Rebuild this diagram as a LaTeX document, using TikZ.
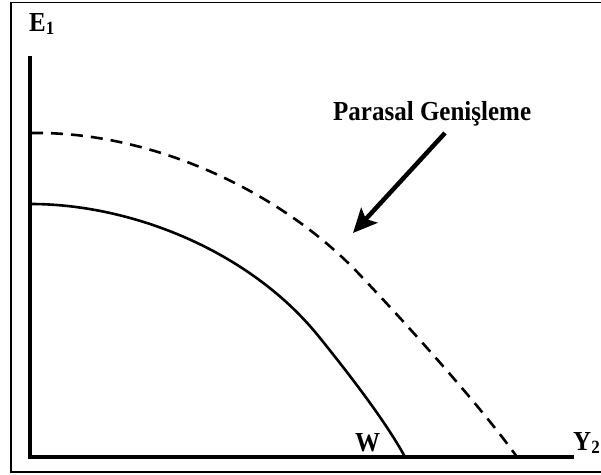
\documentclass[tikz,border=0pt]{standalone}
\usepackage{fontspec}
\setmainfont{Liberation Serif}
\usetikzlibrary{arrows.meta}
\tikzset{
  lbl/.style={font=\fontsize{25}{25}\selectfont\bfseries, inner sep=0pt, anchor=base west},
  axis/.style={line width=3.6pt, line cap=rect},
  curve/.style={line width=2.6pt},
  frame/.style={line width=1.4pt}
}
\begin{document}
\begin{tikzpicture}[x=1pt,y=-1pt]
\useasboundingbox (0,0) rectangle (601,474);
% frame (right side outside)
\draw[frame] (601,2.5) -- (11,2.5) -- (11,472) -- (601,472);
% axes
\coordinate (ytop) at (30,58);
\coordinate (xend) at (572,457);
\draw[axis] (ytop) |- (xend);
% labels
\node[lbl] (E1) at (29,31) {\scalebox{1}[1.1]{E\raisebox{-0.3ex}{\fontsize{17}{17}\selectfont 1}}};
\node[lbl] (Y2) at (573,450) {\scalebox{1}[1.1]{Y\raisebox{-0.3ex}{\fontsize{17}{17}\selectfont 2}}};
\node[lbl] (W) at (355,451) {\scalebox{1}[1.1]{W}};
\node[lbl] (PG) at (333,120) {\scalebox{1}[1.1]{Parasal Genişleme}};
% curves
\draw[curve] (31,204) .. controls (130,204) and (250,250) .. (320,338)
  .. controls (345,369) and (385,420) .. (405,457);
\draw[curve, dash pattern=on 12pt off 8pt] (31,133) .. controls (150,131) and (280,190) .. (360,275)
  .. controls (400,317) and (480,405) .. (517,457);
% arrow
\coordinate (atail) at (445,133);
\coordinate (ahead) at (353,233);
\draw[line width=4.5pt, -{Stealth[length=24pt, width=22pt, inset=5pt]}] (atail) -- (ahead);
\end{tikzpicture}
\end{document}
